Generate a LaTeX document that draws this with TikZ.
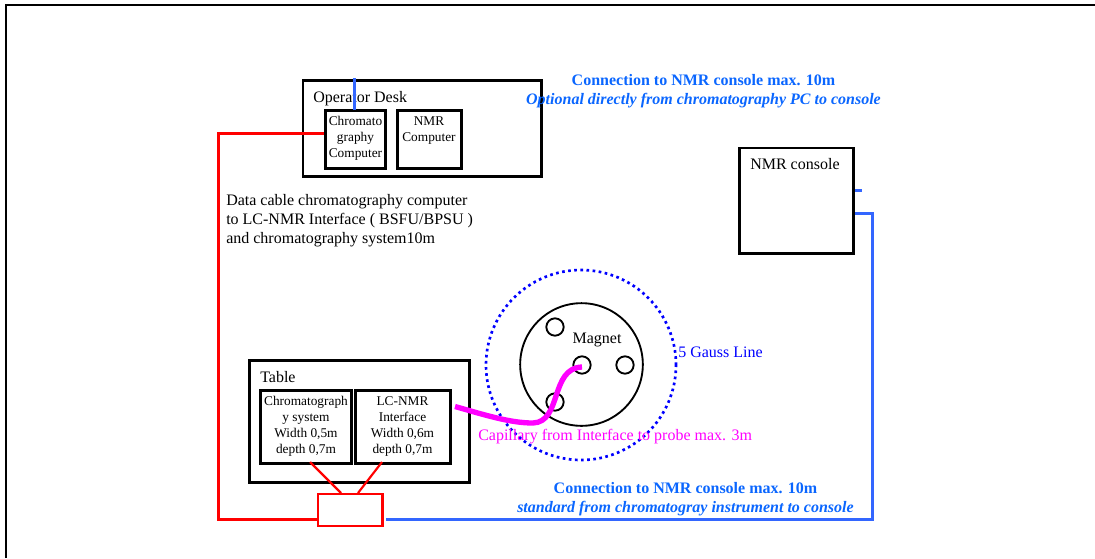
\documentclass[tikz,border=0pt]{standalone}
\usepackage{fontspec}
\setmainfont{Liberation Serif}
\definecolor{cblue}{RGB}{51,102,255}
\definecolor{tblue}{RGB}{10,102,255}
\definecolor{gblue}{RGB}{0,0,255}
\definecolor{cmag}{RGB}{255,0,255}
\tikzset{
  x=0.75pt,y=-0.75pt,
  lbl/.style={inner sep=0pt,align=left,anchor=north west,font=\fontsize{12}{14.25}\selectfont},
  inbox/.style={inner sep=0pt,align=center,anchor=north,font=\fontsize{10}{12}\selectfont},
  boxb/.style={draw=black,line width=2pt,fill=white,inner sep=0pt,anchor=north west},
  hole/.style={circle,draw=black,line width=1.4pt,minimum size=13pt,inner sep=0pt},
  redl/.style={draw=red,line width=1.6pt},
  bluel/.style={draw=cblue,line width=1.6pt},
  bluet/.style={inner sep=0pt,align=center,text=tblue,anchor=north,font=\fontsize{12}{14.25}\selectfont\bfseries},
}
\begin{document}
\begin{tikzpicture}[line join=miter]
\useasboundingbox (0,0) rectangle (1095,558);
\coordinate (fbl) at (5.5,558);
\coordinate (ftl) at (5.5,5.2);
\coordinate (ftr) at (1095,5.2);
\draw[line width=1.5pt] (fbl) -- (ftl) -- (ftr);
% operator desk
\node[boxb,minimum width=178.75pt,minimum height=72pt] (desk) at (301.5,79) {};
\node[lbl] (desklbl) at (313,91) {Operator Desk};
\node[boxb,minimum width=45.25pt,minimum height=43.75pt] (chrom) at (324,109) {};
\node[inbox] (chromt) at (355.5,116) {Chromato\\graphy\\Computer};
\node[boxb,minimum width=48.25pt,minimum height=43.75pt] (nmrc) at (396,109) {};
\node[inbox] (nmrct) at (429,116) {NMR\\Computer};
\coordinate (bt) at (354.5,78);
\draw[bluel] (bt) -- (354.5,110);
% data cable text
\node[lbl] (dc) at (226,194) {Data cable chromatography computer\\to LC-NMR Interface ( BSFU/BPSU )\\and chromatography system10m};
% table
\node[boxb,minimum width=165pt,minimum height=91.75pt] (table) at (248,359) {};
\node[lbl] (tablelbl) at (260,371) {Table};
\node[boxb,minimum width=68.5pt,minimum height=54.75pt] (cs) at (259,389) {};
\node[inbox] (cst) at (306,396) {Chromatograph\\y system\\Width 0,5m\\depth 0,7m};
\node[boxb,minimum width=71.5pt,minimum height=54.75pt] (lc) at (354,389) {};
\node[inbox] (lct) at (402.5,396) {LC-NMR\\Interface\\Width 0,6m\\depth 0,7m};
% red box
\coordinate (c1) at (310,462);
\coordinate (c2) at (382,462);
\node[draw=red,line width=1.6pt,fill=white,inner sep=0pt,anchor=north west,minimum width=48.3pt,minimum height=24.2pt] (rb) at (317,492.5) {};
\coordinate (c3) at (341,493);
\coordinate (c4) at (358,493);
\draw[redl] (c1) -- (c3);
\draw[redl] (c2) -- (c4);
\coordinate (r0) at (218.5,133.5);
\coordinate (r1) at (218.5,519.5);
\draw[redl] (rb.west |- r1) -- (r1) -- (r0) -- (chrom.west |- r0);
% magnet
\node[circle,draw=black,line width=1.4pt,minimum size=92pt,inner sep=0pt] (mag) at (581.5,364.5) {};
\node[circle,draw=gblue,line width=2pt,dash pattern=on 2pt off 2.6pt,minimum size=142.5pt,inner sep=0pt] (gauss) at (581,365) {};
\node[hole] (h1) at (555,327) {};
\node[hole] (h2) at (582,365) {};
\node[hole] (h3) at (625,365) {};
\node[hole] (h4) at (555,402) {};
\node[lbl,anchor=center] (magt) at (597,340) {Magnet};
\node[lbl,anchor=west,text=gblue] (gt) at (678,352) {5 Gauss Line};
\coordinate (p0) at (455,406.5);
\coordinate (p1) at (582,367);
\draw[cmag,line width=4pt] (p0) .. controls (485,415) and (510,423) .. (533,423) .. controls (562,422) and (550,368) .. (p1);
\node[lbl,anchor=west,text=cmag] (capt) at (478,437) {Capillary from Interface to probe max. 3m};
% console
\node[boxb,minimum width=85.75pt,minimum height=79pt] (cons) at (738,146.5) {};
\node[lbl] (const) at (750,158) {NMR console};
\coordinate (s1) at (862,190.5);
\draw[bluel] (cons.east |- s1) -- (s1);
\coordinate (b1) at (872.5,213.5);
\coordinate (b2) at (872.5,519.5);
\coordinate (b3) at (386,519.5);
\draw[bluel] (cons.east |- b1) -- (b1) -- (b2) -- (b3);
% top blue
\node[bluet] (t1) at (703.5,74) {Connection to NMR console max. 10m\\\itshape Optional directly from chromatography PC to console};
\node[bluet] (t2) at (685.5,482) {Connection to NMR console max. 10m\\\itshape standard from chromatogray instrument to console};
\end{tikzpicture}
\end{document}
